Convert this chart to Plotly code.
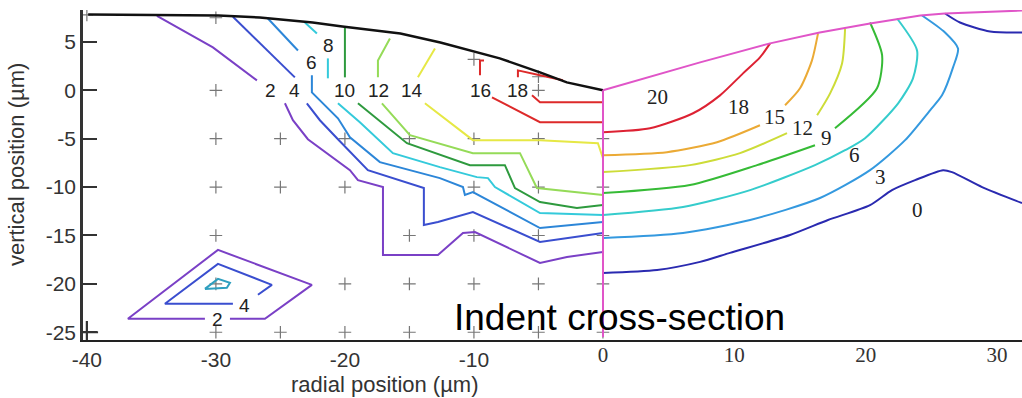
import plotly.graph_objects as go

# ---------------- data ----------------
# Left panel (radial position in left-panel units, vertical position in µm)
surface_x = [-39.9, -29.8, -26.6, -22.5, -20.2, -15.7, -12.6, -8.0, -4.88, -2.8, 0.0]
surface_y = [7.84, 7.73, 7.53, 7.01, 6.6, 5.88, 4.95, 3.3, 1.86, 0.82, 0.0]

left_c2_x = [-34.57, -30.23, -26.82, None, -24.65, -24.03, -22.87, -19.61, -18.99, -17.05, -17.05, -12.79, -10.85, -9.92, -4.88, -2.79, 0.0]
left_c2_y = [7.7, 4.43, 1.03, None, -1.34, -3.09, -5.05, -8.25, -9.28, -10.0, -17.01, -17.01, -14.74, -14.64, -17.84, -17.22, -16.70]
left_c4_x = [-28.68, -23.88, None, -22.95, -21.94, -20.54, -18.22, -13.88, -13.88, -12.79, -10.08, -4.88, 0.0]
left_c4_y = [7.6, 1.34, None, -1.34, -3.09, -5.05, -8.25, -10.10, -13.92, -13.6, -12.58, -15.67, -14.74]
left_c6_x = [-25.97, -23.64, None, -22.56, -22.56, -20.54, -19.61, -17.29, -12.64, -10.85, -10.70, -10.08, -4.88, 0.0]
left_c6_y = [7.42, 4.12, None, 1.55, -0.21, -2.89, -4.85, -7.42, -9.07, -10.0, -10.82, -10.52, -14.23, -13.61]
left_c8_x = [-23.10, -22.17, None, -21.32, -21.32, None, -20.54, -18.84, -16.28, -12.64, -9.77, -8.91, -8.37, -4.88, 0.0]
left_c8_y = [7.0, 5.88, None, 3.30, 1.24, None, -1.34, -3.30, -6.49, -7.94, -8.97, -9.07, -10.0, -12.68, -12.89]
left_c10_x = [-20.0, -20.0, None, -18.99, -15.19, -10.31, -7.60, -6.82, -4.88, -2.02, 0.0]
left_c10_y = [6.5, 1.34, None, -1.34, -5.46, -7.73, -7.73, -10.10, -11.55, -12.16, -11.86]
left_c12_x = [-16.51, -17.44, -17.44, None, -17.13, -14.96, -10.08, -6.43, -5.12, -0.23, 0.0]
left_c12_y = [5.36, 3.09, 1.34, None, -1.34, -4.64, -6.49, -6.49, -10.10, -10.82, -10.82]
left_c14_x = [-13.02, -14.34, None, -13.80, -10.08, -4.88, -0.39, 0.0]
left_c14_y = [4.33, 1.34, None, -1.34, -5.15, -5.15, -5.46, -7.01]
left_c16_x = [-9.22, -9.53, -9.53, None, -8.60, -4.88, 0.0]
left_c16_y = [3.09, 3.09, 1.55, None, -0.72, -3.30, -3.30]
left_c18_x = [-6.59, -6.59, -4.88, -3.10, None, -5.50, -4.88, 0.0]
left_c18_y = [1.34, 2.06, 1.55, 1.03, None, -0.52, -1.24, -1.24]

island_c2_x = [-28.91, -26.20, -22.56, -29.84, -36.82, -30.85]
island_c2_y = [-23.61, -23.61, -20.10, -16.49, -23.61, -23.61]
island_c4_x = [-26.74, -25.66, -29.84, -33.95, -28.68]
island_c4_y = [-21.13, -20.10, -17.94, -22.06, -22.06]
island_c6_x = [-30.85, -29.84, -28.91, -29.15, -30.85]
island_c6_y = [-20.52, -19.48, -19.90, -20.41, -20.52]

left_label_text = ["2", "4", "6", "8", "10", "12", "14", "16", "18", "2", "4"]
left_label_x = [-25.8, -23.9, -22.6, -21.3, -20.0, -17.4, -14.8, -9.5, -6.6, -29.9, -27.75]
left_label_y = [0.0, 0.0, 2.9, 4.6, 0.0, 0.0, 0.0, 0.0, 0.0, -23.7, -22.2]

grid_x = [-30, -5,
          -30, -25, -20, -15, -10, -5, 0,
          -30, -25, -20, -10, -5, 0,
          -30, -15, -10, -5, 0,
          -30, -20, -15, -10, -5, 0,
          -30, -25, -20, -15, -10, -5, 0,
          -30, -10, -5, -40]
grid_y = [0, 0,
          -5, -5, -5, -5, -5, -5, -5,
          -10, -10, -10, -10, -10, -10,
          -15, -15, -15, -15, -15,
          -20, -20, -20, -20, -20, -20,
          -25, -25, -25, -25, -25, -25, -25,
          7.5, 3.2, 1.4, 7.8]
corner_x = [-40]
corner_y = [-25]

# Right panel (its own radial scale)
pink_x = [0.0, 7.39, 12.72, 16.50, 20.33, 24.16, 26.03, 32.0, None, 0.0, 0.0]
pink_y = [0.0, 2.89, 4.85, 5.98, 6.91, 7.73, 7.94, 8.25, None, 0.0, -25.5]

right_c18_x = [0.0, 3.58, 6.86, 8.91, 10.66, 11.95, 12.72]
right_c18_y = [-4.33, -3.92, -2.37, -0.52, 1.75, 3.40, 4.85]
right_c15_x = [0.0, 4.87, 8.68, 11.95, None, 13.86, 15.0, 15.91, 16.37]
right_c15_y = [-6.70, -6.39, -5.36, -3.61, None, -1.55, 0.21, 3.09, 5.88]
right_c12_x = [0.0, 6.62, 10.43, 14.01, None, 16.30, 17.29, 18.20, 18.43]
right_c12_y = [-8.45, -7.73, -6.49, -4.43, None, -2.58, -0.31, 2.78, 6.39]
right_c9_x = [0.0, 6.62, 11.73, 16.14, None, 17.66, 20.86, 21.25, 20.33]
right_c9_y = [-10.62, -9.79, -7.73, -5.67, None, -3.92, 0.21, 3.61, 7.01]
right_c6_x = [0.0, 6.09, 11.20, 16.14, 18.43, 19.95, 22.47, 23.60, 23.91, 22.39]
right_c6_y = [-12.89, -12.06, -10.31, -7.73, -6.19, -4.95, -1.34, 1.24, 4.12, 7.42]
right_c3_x = [0.0, 6.09, 11.20, 16.52, 20.33, 23.0, 24.90, 25.81, 26.65, 27.03, 26.04, 24.29]
right_c3_y = [-15.26, -14.74, -13.40, -11.13, -8.25, -5.15, -2.06, -0.52, 2.37, 4.33, 5.98, 7.73]
right_c0_x = [0.0, 4.12, 7.39, 9.67, 14.24, 17.13, 20.33, 22.0, 23.76, 25.89, 26.57, 28.86, 31.90]
right_c0_y = [-18.87, -18.56, -17.73, -16.80, -14.95, -13.40, -11.86, -10.31, -9.28, -8.25, -8.45, -10.0, -11.65]
right_c0b_x = [26.04, 27.18, 29.47, 31.90]
right_c0b_y = [7.94, 7.01, 6.08, 5.98]

right_label_text = ["20", "18", "15", "12", "9", "6", "3", "0"]
right_label_x = [4.18, 10.28, 13.09, 15.16, 17.05, 19.12, 21.09, 23.91]
right_label_y = [-0.72, -1.75, -2.78, -3.92, -4.95, -6.70, -8.97, -12.37]

y_ticks = [-25, -20, -15, -10, -5, 0, 5]
y_tick_text = ["-25", "-20", "-15", "-10", "-5", "0", "5"]
x_left_ticks = [-40, -30, -20, -10]
x_left_tick_text = ["-40", "-30", "-20", "-10"]
x_right_ticks = [0, 10, 20, 30]
x_right_tick_text = ["0", "10", "20", "30"]

# ---------------- styles ----------------
left_lines = [
    (left_c2_x, left_c2_y, "#7A40C6"),
    (left_c4_x, left_c4_y, "#3A4ECF"),
    (left_c6_x, left_c6_y, "#2C86D8"),
    (left_c8_x, left_c8_y, "#34CADB"),
    (left_c10_x, left_c10_y, "#2E9A3E"),
    (left_c12_x, left_c12_y, "#95DB58"),
    (left_c14_x, left_c14_y, "#E6E845"),
    (left_c16_x, left_c16_y, "#DD2A2A"),
    (left_c18_x, left_c18_y, "#DD2A2A"),
    (island_c2_x, island_c2_y, "#7A40C6"),
    (island_c4_x, island_c4_y, "#3A4ECF"),
    (island_c6_x, island_c6_y, "#2F9FBF"),
]
right_lines = [
    (right_c18_x, right_c18_y, "#DD2233"),
    (right_c15_x, right_c15_y, "#EBAA35"),
    (right_c12_x, right_c12_y, "#CDDC38"),
    (right_c9_x, right_c9_y, "#36BB36"),
    (right_c6_x, right_c6_y, "#35CCCC"),
    (right_c3_x, right_c3_y, "#3499DF"),
    (right_c0_x, right_c0_y, "#2A2AB0"),
    (right_c0b_x, right_c0b_y, "#2A2AB0"),
]

SANS = "Liberation Sans, Arial, sans-serif"
SERIF = "Liberation Serif, Times New Roman, serif"

x_range = [-40.3, 32.48]
x2_range = [-39.59, 31.90]
y_range = [-25.8, 8.3]

fig = go.Figure()

fig.add_trace(go.Scatter(x=grid_x, y=grid_y, mode="markers", hoverinfo="skip",
                         marker=dict(symbol="cross-thin", size=9, line=dict(width=1.2, color="#777"))))
fig.add_trace(go.Scatter(x=corner_x, y=corner_y, mode="markers", hoverinfo="skip",
                         marker=dict(symbol="cross-thin", size=16, line=dict(width=2.2, color="#333"))))

for xs, ys, col in left_lines:
    fig.add_trace(go.Scatter(x=xs, y=ys, mode="lines", connectgaps=False, hoverinfo="skip",
                             line=dict(color=col, width=2)))
for xs, ys, col in right_lines:
    fig.add_trace(go.Scatter(x=xs, y=ys, xaxis="x2", mode="lines", connectgaps=False, hoverinfo="skip",
                             line=dict(color=col, width=2, shape="spline", smoothing=0.7)))

fig.add_trace(go.Scatter(x=surface_x, y=surface_y, mode="lines", hoverinfo="skip",
                         line=dict(color="#111", width=2.5)))
fig.add_trace(go.Scatter(x=pink_x, y=pink_y, xaxis="x2", mode="lines", connectgaps=False, hoverinfo="skip",
                         line=dict(color="#E055C8", width=2)))

annotations = []
for t, x, y in zip(left_label_text, left_label_x, left_label_y):
    annotations.append(dict(text=t, x=x, y=y, xref="x", yref="y", showarrow=False,
                            font=dict(family=SANS, size=19, color="#222")))
for t, x, y in zip(right_label_text, right_label_x, right_label_y):
    annotations.append(dict(text=t, x=x, y=y, xref="x2", yref="y", showarrow=False,
                            font=dict(family=SERIF, size=21, color="#222")))
annotations.append(dict(text="Indent cross-section", x=0.393, y=0.0667, xref="paper", yref="paper",
                        xanchor="left", yanchor="middle", showarrow=False,
                        font=dict(family=SANS, size=37, color="#000")))
annotations.append(dict(text="radial position (µm)", x=0.3216, y=-0.136, xref="paper", yref="paper",
                        xanchor="center", yanchor="middle", showarrow=False,
                        font=dict(family=SANS, size=22, color="#333")))
annotations.append(dict(text="vertical position (µm)", x=-0.0714, y=0.533, xref="paper", yref="paper",
                        xanchor="center", yanchor="middle", showarrow=False, textangle=-90,
                        font=dict(family=SANS, size=22, color="#333")))

fig.update_layout(
    width=1022, height=398,
    margin=dict(l=83, r=0, t=10, b=58),
    plot_bgcolor="white", paper_bgcolor="white",
    showlegend=False,
    annotations=annotations,
    xaxis=dict(range=x_range, showgrid=False, zeroline=False, showline=True,
               linecolor="#222", linewidth=2, ticks="", tickvals=x_left_ticks,
               ticktext=x_left_tick_text,
               tickfont=dict(family=SANS, size=21, color="#333")),
    xaxis2=dict(range=x2_range, overlaying="x", anchor="y", side="bottom",
                showgrid=False, zeroline=False, showline=False, ticks="",
                tickvals=x_right_ticks, ticktext=x_right_tick_text,
                tickfont=dict(family=SERIF, size=21, color="#333")),
    yaxis=dict(range=y_range, showgrid=False, zeroline=False, showline=True,
               linecolor="#333", linewidth=2.5, ticks="inside", ticklen=14, tickwidth=2,
               tickcolor="#333", tickvals=y_ticks, ticktext=y_tick_text,
               tickfont=dict(family=SANS, size=21, color="#333")),
)

fig.write_html("out.html")
